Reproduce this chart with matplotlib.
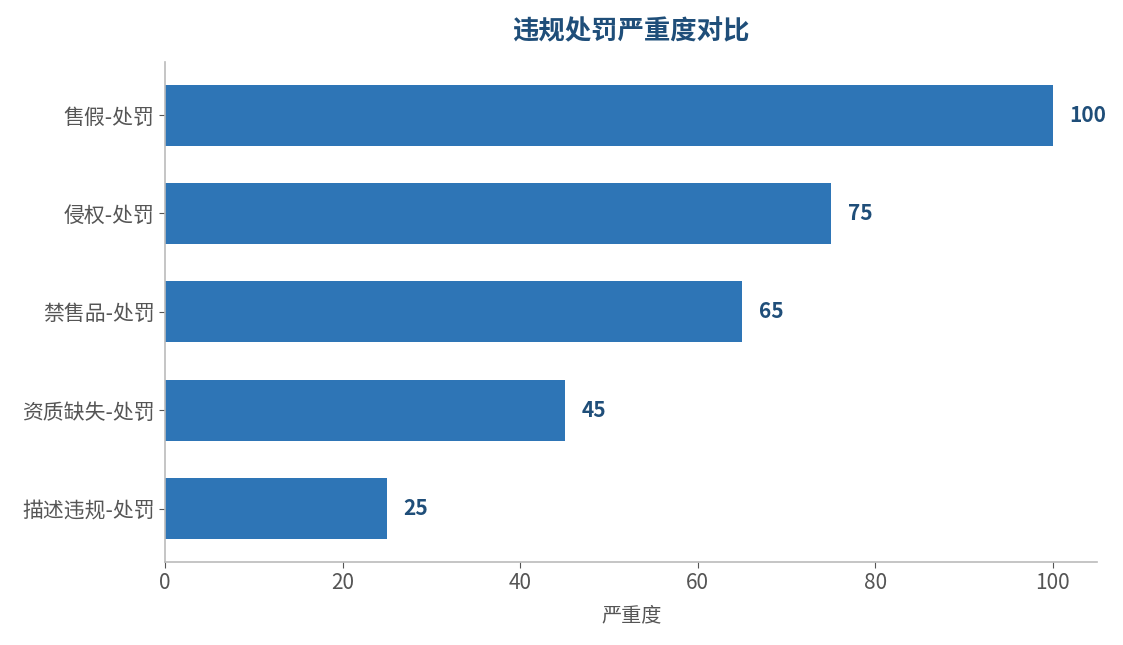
import matplotlib
matplotlib.use('agg')
import matplotlib.pyplot as plt

categories = ['售假-处罚', '侵权-处罚', '禁售品-处罚', '资质缺失-处罚', '描述违规-处罚']
severity = [100, 75, 65, 45, 25]

plt.rcParams['font.family'] = ['Noto Sans CJK SC', 'DejaVu Sans']

barColor = '#2E75B6'
labelColor = '#1F4E79'
textColor = '#555555'
spineColor = '#BBBBBB'

fig, ax = plt.subplots(figsize=(11.23, 6.45), dpi=100)
pos = list(range(len(categories)))[::-1]
ax.barh(pos, severity, height=0.62, color=barColor)

for p, v in zip(pos, severity):
    ax.annotate(str(v), xy=(v, p), xytext=(12, 0), textcoords='offset points',
                va='center', ha='left', fontsize=15, fontweight='bold', color=labelColor)

ax.set_yticks(pos)
ax.set_yticklabels(categories)
ax.set_xticks([0, 20, 40, 60, 80, 100])
ax.set_xlabel('严重度', fontsize=14.5, color=textColor, labelpad=8)
ax.set_title('违规处罚严重度对比', fontsize=19, fontweight='bold', color=labelColor, pad=16)

ax.tick_params(axis='both', labelsize=15, colors=textColor)
ax.tick_params(axis='both', color=textColor, length=4)
for s in ['top', 'right']:
    ax.spines[s].set_visible(False)
for s in ['left', 'bottom']:
    ax.spines[s].set_color(spineColor)
    ax.spines[s].set_linewidth(1.2)

fig.subplots_adjust(left=0.147, right=0.977, top=0.904, bottom=0.129)
fig.savefig('out.png')
